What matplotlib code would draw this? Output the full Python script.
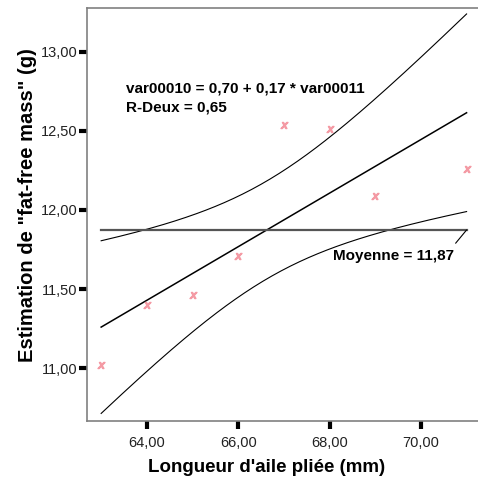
import numpy as np
import matplotlib
matplotlib.use("Agg")
import matplotlib.pyplot as plt

# data
wing = [63, 64, 65, 66, 67, 68, 69, 71]
mass = [11.02, 11.40, 11.46, 11.71, 12.54, 12.51, 12.09, 12.26]
xticks = [64, 66, 68, 70]
yticks = [11.0, 11.5, 12.0, 12.5, 13.0]
eq_text = "var00010 = 0,70 + 0,17 * var00011\nR-Deux = 0,65"
mean_text = "Moyenne = 11,87"
xlabel = "Longueur d'aile pliée (mm)"
ylabel = 'Estimation de "fat-free mass" (g)'

T_975 = 2.4469  # student t, 6 ddl

plt.rcParams['font.family'] = ['Liberation Sans', 'DejaVu Sans']

x = np.array(wing, dtype=float)
y = np.array(mass, dtype=float)
n = len(x)
slope, icpt = np.polyfit(x, y, 1)
resid = y - (icpt + slope * x)
s = np.sqrt((resid ** 2).sum() / (n - 2))
sxx = ((x - x.mean()) ** 2).sum()

xs = np.linspace(x.min(), x.max(), 200)
fit = icpt + slope * xs
half = T_975 * s * np.sqrt(1 / n + (xs - x.mean()) ** 2 / sxx)

fig = plt.figure(figsize=(4.78, 4.88), dpi=100)
ax = fig.add_axes([87 / 478, 67 / 488, 391 / 478, 413 / 488])

ax.plot(xs, fit, color='black', lw=1.1)
ax.plot(xs, fit + half, color='black', lw=0.8)
ax.plot(xs, fit - half, color='black', lw=0.8)
ax.plot([x.min(), x.max()], [y.mean(), y.mean()], color='#555555', lw=1.6)
ax.plot(x, y, linestyle='none', marker='$x$', ms=5, color='#f49aa4')

ax.set_xlim(62.69, 71.25)
ax.set_ylim(10.667, 13.276)
ax.set_xticks(xticks)
ax.set_yticks(yticks)
ax.set_xticklabels([f"{v:.2f}".replace('.', ',') for v in xticks])
ax.set_yticklabels([f"{v:.2f}".replace('.', ',') for v in yticks])
ax.tick_params(direction='out', length=6, width=3, color='black',
               labelsize=10.5, labelcolor='#222222')
ax.tick_params(axis='y', pad=1)
ax.tick_params(axis='x', pad=5)

for side in ['top', 'left', 'bottom']:
    ax.spines[side].set_color('#808080')
    ax.spines[side].set_linewidth(1.2)
ax.spines['right'].set_visible(False)

ax.set_xlabel(xlabel, fontsize=13.5, fontweight='bold')
ax.set_ylabel(ylabel, fontsize=14.5, fontweight='bold')
ax.xaxis.set_label_coords(0.458, -0.093)
ax.yaxis.set_label_coords(-0.128, 0.524)

ax.text(63.55, 12.81, eq_text, fontsize=11, fontweight='bold',
        va='top', ha='left', linespacing=1.4)
ax.text(70.72, 11.71, mean_text, fontsize=11, fontweight='bold',
        ha='right', va='center')
ax.annotate('', xy=(x.max(), y.mean()), xytext=(70.76, 11.79),
            arrowprops=dict(arrowstyle='-', color='black', lw=0.8,
                            shrinkA=0, shrinkB=0))

fig.savefig('out.png', dpi=100)
